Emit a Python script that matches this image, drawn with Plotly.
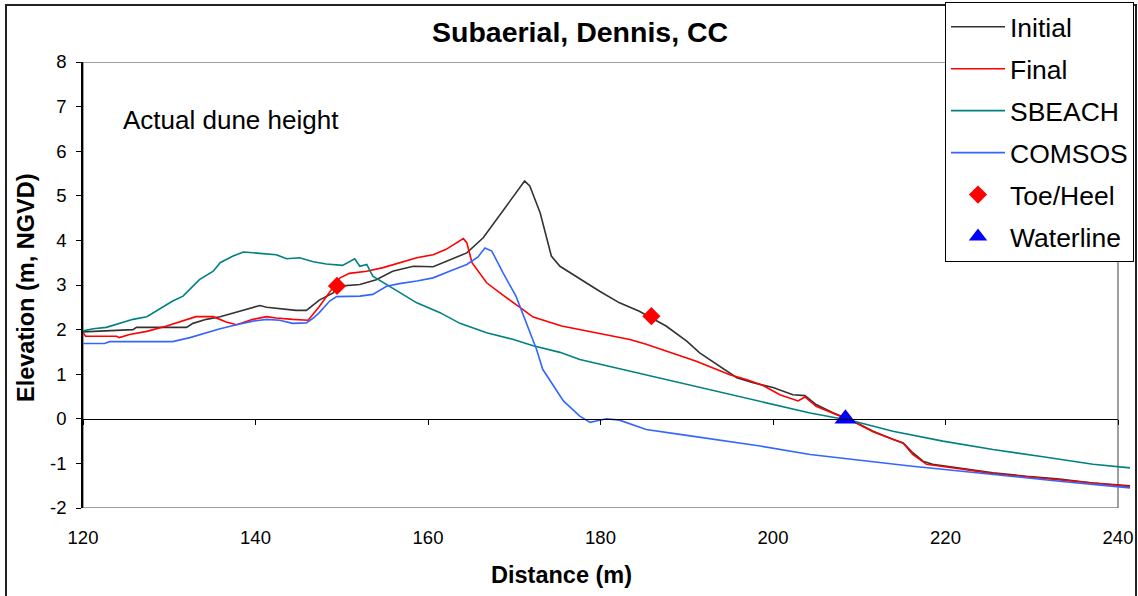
import plotly.graph_objects as go

# ---------------- data ----------------
initial_x = [120, 125.8, 126.2, 132, 132.75, 134.3, 135.9, 138.2, 140.5, 141.3,
             142.8, 144.7, 145.9, 147.4, 149.0, 149.4, 152.1, 154.0, 155.9, 158.3,
             160.6, 162.5, 164.5, 166.4, 167.9, 169.5, 171.2, 171.8, 173.0, 174.3,
             175.3, 178.0, 179.9, 182.2, 184.5, 187.6, 190.0, 191.5, 193.8, 195.8,
             197.7, 200.0, 202.3, 203.7, 205.0, 207.0, 209.3, 211.6, 213.9, 215.1,
             216.2, 217.4, 218.5, 221.6, 225.5, 229.4, 233.2, 237.1, 241.4]
initial_y = [1.95, 2.0, 2.05, 2.05, 2.14, 2.23, 2.29, 2.41, 2.54, 2.50,
             2.47, 2.43, 2.43, 2.66, 2.82, 2.97, 3.01, 3.12, 3.31, 3.42,
             3.41, 3.57, 3.72, 4.06, 4.47, 4.88, 5.33, 5.22, 4.62, 3.65,
             3.42, 3.09, 2.86, 2.60, 2.41, 2.08, 1.74, 1.48, 1.18, 0.92,
             0.81, 0.70, 0.54, 0.52, 0.32, 0.13, -0.05, -0.28, -0.46, -0.54,
             -0.76, -0.95, -1.02, -1.10, -1.21, -1.29, -1.35, -1.44, -1.50]

final_x = [120, 120.3, 123.9, 124.2, 125.4, 127.4, 129.7, 131.6, 133.1, 135.1,
           136.6, 137.8, 139.7, 141.3, 142.4, 144.3, 146.1, 147.4, 148.6, 149.8,
           150.9, 152.9, 154.8, 156.7, 158.7, 160.6, 162.1, 164.1, 164.5, 165.1,
           166.8, 168.3, 170.2, 172.2, 175.5, 179.5, 183.4, 185.3, 187.2, 191.1,
           195.0, 196.9, 198.8, 200.8, 202.9, 203.7, 205.0, 207.0, 209.3, 211.6,
           213.9, 215.1, 216.2, 217.8, 221.6, 225.5, 229.4, 233.2, 237.1, 241.4]
final_y = [1.93, 1.85, 1.85, 1.82, 1.89, 1.96, 2.08, 2.19, 2.29, 2.29,
           2.17, 2.11, 2.23, 2.29, 2.26, 2.23, 2.21, 2.52, 2.83, 3.16,
           3.26, 3.31, 3.39, 3.50, 3.61, 3.68, 3.80, 4.04, 3.95, 3.50,
           3.05, 2.83, 2.56, 2.28, 2.08, 1.93, 1.78, 1.67, 1.55, 1.29,
           0.99, 0.88, 0.75, 0.54, 0.40, 0.49, 0.28, 0.13, -0.06, -0.29,
           -0.47, -0.55, -0.80, -1.02, -1.12, -1.23, -1.30, -1.37, -1.45, -1.52]

sbeach_x = [120, 121.2, 122.7, 124.3, 125.8, 127.4, 128.9, 130.4, 131.6, 133.5,
            135.1, 135.9, 137.4, 138.6, 140.5, 142.4, 143.6, 145.1, 146.7, 148.2,
            150.1, 151.5, 152.1, 152.9, 153.6, 155.2, 156.7, 158.7, 161.4, 163.7,
            166.8, 169.9, 172.2, 175.3, 177.6, 183.4, 189.2, 195.0, 200.8, 204.3,
            209.3, 213.9, 219.7, 225.5, 231.3, 237.1, 241.4]
sbeach_y = [1.97, 2.02, 2.05, 2.14, 2.23, 2.29, 2.47, 2.64, 2.75, 3.12,
            3.31, 3.50, 3.65, 3.74, 3.71, 3.68, 3.59, 3.61, 3.52, 3.47,
            3.44, 3.59, 3.42, 3.46, 3.20, 3.01, 2.83, 2.60, 2.38, 2.14,
            1.93, 1.78, 1.64, 1.49, 1.33, 1.07, 0.81, 0.54, 0.28, 0.13,
            -0.05, -0.28, -0.50, -0.69, -0.85, -1.02, -1.10]

comsos_x = [120, 122.5, 123.1, 130.4, 132.4, 134.3, 135.9, 137.8, 139.7, 141.3,
            142.8, 144.3, 145.9, 146.7, 147.4, 148.6, 149.4, 152.1, 153.6, 155.2,
            156.7, 158.7, 160.6, 162.5, 164.5, 165.8, 166.6, 167.4, 168.7, 170.2,
            171.4, 172.6, 173.3, 174.1, 175.7, 177.6, 178.8, 179.5, 180.7, 182.2,
            185.3, 189.2, 193.0, 198.5, 204.3, 210.1, 215.9, 221.6, 227.4, 233.2,
            237.1, 241.4]
comsos_y = [1.69, 1.69, 1.73, 1.73, 1.82, 1.93, 2.02, 2.11, 2.19, 2.23,
            2.21, 2.14, 2.15, 2.26, 2.38, 2.64, 2.74, 2.75, 2.79, 2.97,
            3.03, 3.09, 3.16, 3.31, 3.46, 3.63, 3.83, 3.76, 3.27, 2.75,
            2.15, 1.55, 1.11, 0.88, 0.40, 0.06, -0.08, -0.05, 0.0, -0.03,
            -0.24, -0.35, -0.45, -0.61, -0.80, -0.93, -1.06, -1.17, -1.29, -1.40,
            -1.47, -1.55]

toe_heel_x = [149.45, 185.9]
toe_heel_y = [2.98, 2.30]

waterline_x = [208.4]
waterline_y = [0.0]

x_ticks = [120, 140, 160, 180, 200, 220, 240]
y_ticks = [-2, -1, 0, 1, 2, 3, 4, 5, 6, 7, 8]
y_tick_text = ["-2", "-1", "0", "1", "2", "3", "4", "5", "6", "7", "8"]

# ---------------- layout geometry ----------------
W, H = 1138, 596
ML, MR, MT, MB = 83, 8, 62, 88
PW = W - ML - MR
PH = H - MT - MB
X_MIN, X_AXIS_MAX = 120, 240
X_DRAW_MAX = X_MIN + (X_AXIS_MAX - X_MIN) * PW / (1118 - ML)
Y_MIN, Y_MAX = -2, 8


def px(xp):
    return (xp - ML) / PW


def py(yp):
    return (H - MB - yp) / PH


FONT = "Liberation Sans, Arial, sans-serif"

fig = go.Figure()

line_w = 1.6
fig.add_trace(go.Scatter(x=initial_x, y=initial_y, mode="lines", name="Initial",
                         legendgroup="a", line=dict(color="#333333", width=line_w)))
fig.add_trace(go.Scatter(x=final_x, y=final_y, mode="lines", name="Final",
                         legendgroup="b", line=dict(color="#ff0000", width=line_w)))
fig.add_trace(go.Scatter(x=sbeach_x, y=sbeach_y, mode="lines", name="SBEACH",
                         legendgroup="c", line=dict(color="#008080", width=line_w)))
fig.add_trace(go.Scatter(x=comsos_x, y=comsos_y, mode="lines", name="COMSOS",
                         legendgroup="d", line=dict(color="#3366ff", width=line_w)))
fig.add_trace(go.Scatter(x=toe_heel_x, y=toe_heel_y, mode="markers", name="Toe/Heel",
                         legendgroup="e", xaxis="x2", yaxis="y",
                         marker=dict(symbol="diamond", size=14, color="#ff0000")))
fig.add_trace(go.Scatter(x=waterline_x, y=waterline_y, mode="markers", name="Waterline",
                         legendgroup="f", xaxis="x2", yaxis="y",
                         marker=dict(symbol="triangle-up", size=19, color="#0000ff")))

fig.update_layout(
    width=W, height=H,
    margin=dict(l=ML, r=MR, t=MT, b=MB, pad=0, autoexpand=False),
    paper_bgcolor="white", plot_bgcolor="rgba(0,0,0,0)",
    font=dict(family=FONT, color="black"),
    showlegend=True,
    legend=dict(
        x=px(945), y=py(2), xanchor="left", yanchor="top",
        bgcolor="white", bordercolor="black", borderwidth=1,
        font=dict(family=FONT, size=26.5, color="black"),
        itemwidth=54, tracegroupgap=4.5,
    ),
    xaxis=dict(
        range=[X_MIN, X_DRAW_MAX], domain=[0, 1],
        tickmode="array", tickvals=x_ticks, ticktext=[str(v) for v in x_ticks],
        ticks="", showline=False, showgrid=False, zeroline=False,
        tickfont=dict(family=FONT, size=18.5, color="black"),
        ticklabelstandoff=16,
    ),
    xaxis2=dict(
        range=[X_MIN, X_AXIS_MAX], domain=[0, (1118 - ML) / PW],
        anchor="free", position=(0 - Y_MIN) / (Y_MAX - Y_MIN),
        tickmode="array", tickvals=x_ticks, showticklabels=False,
        ticks="outside", ticklen=5, tickwidth=1, tickcolor="black",
        showline=True, linecolor="black", linewidth=1,
        showgrid=False, zeroline=False,
    ),
    yaxis=dict(
        range=[Y_MIN, Y_MAX], domain=[0, 1], anchor="x",
        tickmode="array", tickvals=y_ticks, ticktext=y_tick_text,
        ticks="outside", ticklen=5, tickwidth=1, tickcolor="black",
        showline=True, linecolor="black", linewidth=1.5,
        showgrid=False, zeroline=False,
        tickfont=dict(family=FONT, size=18.5, color="black"),
        ticklabelstandoff=6,
    ),
    shapes=[
        dict(type="rect", xref="x", yref="y", x0=X_MIN, x1=X_AXIS_MAX, y0=Y_MIN, y1=Y_MAX,
             line=dict(color="#808080", width=1.5), layer="below"),
        dict(type="rect", xref="paper", yref="paper", x0=px(6), x1=px(1136), y0=py(5), y1=py(620),
             line=dict(color="#222222", width=2), layer="above"),
    ],
    annotations=[
        dict(text="<b>Subaerial, Dennis, CC</b>", xref="paper", yref="paper",
             x=px(579.5), y=py(32), xanchor="center", yanchor="middle", showarrow=False,
             font=dict(family=FONT, size=28.5, color="black")),
        dict(text="Actual dune height", xref="paper", yref="paper",
             x=px(121), y=py(120), xanchor="left", yanchor="middle", showarrow=False,
             font=dict(family=FONT, size=26, color="black")),
        dict(text="<b>Distance (m)</b>", xref="paper", yref="paper",
             x=px(561.5), y=py(575), xanchor="center", yanchor="middle", showarrow=False,
             font=dict(family=FONT, size=23.5, color="black")),
        dict(text="<b>Elevation (m, NGVD)</b>", xref="paper", yref="paper",
             x=px(26), y=py(288), xanchor="center", yanchor="middle", showarrow=False,
             textangle=-90, font=dict(family=FONT, size=23.5, color="black")),
    ],
)

fig.write_html(
    "out.html",
    config={"displayModeBar": False},
    post_script="document.body.style.margin='0px';document.body.style.overflow='hidden';",
)
